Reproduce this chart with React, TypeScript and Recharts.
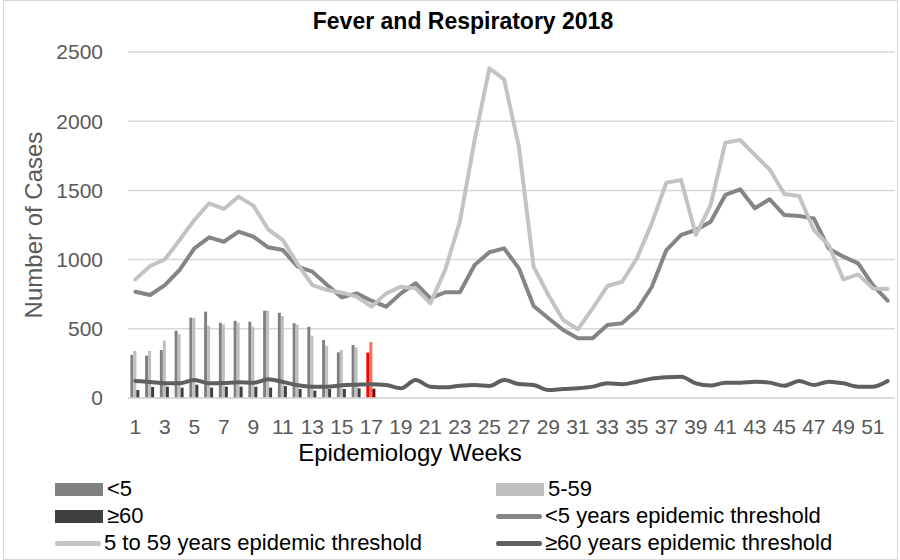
import { Bar, CartesianGrid, Cell, ComposedChart, Label, Line, XAxis, YAxis } from "recharts"

const weeks = [
  "1", "2", "3", "4", "5", "6", "7", "8", "9", "10", "11", "12", "13",
  "14", "15", "16", "17", "18", "19", "20", "21", "22", "23", "24", "25", "26",
  "27", "28", "29", "30", "31", "32", "33", "34", "35", "36", "37", "38", "39",
  "40", "41", "42", "43", "44", "45", "46", "47", "48", "49", "50", "51", "52",
]
const currentWeek = "17"

// weekly cases so far (weeks 1-17)
const under5 = [311, 306, 347, 486, 580, 624, 544, 558, 551, 631, 616, 540, 515, 419, 330, 383, 328]
const age5to59 = [340, 340, 414, 460, 580, 522, 532, 544, 515, 631, 592, 530, 450, 376, 347, 366, 405]
const over60 = [58, 80, 82, 75, 96, 75, 82, 82, 82, 75, 87, 65, 53, 65, 65, 70, 67]

// epidemic thresholds, all 52 weeks
const under5Threshold = [
  768, 744, 816, 925, 1081, 1161, 1129, 1202, 1166, 1089, 1069, 949, 913,
  816, 727, 756, 703, 660, 756, 829, 720, 764, 764, 961, 1053, 1081,
  937, 665, 576, 491, 431, 431, 527, 540, 636, 800, 1069, 1178, 1214,
  1274, 1467, 1508, 1371, 1436, 1322, 1315, 1298, 1081, 1021, 973, 816, 703,
]
const age5to59Threshold = [
  857, 954, 1002, 1141, 1286, 1407, 1366, 1455, 1390, 1219, 1141, 968, 816,
  780, 761, 732, 660, 756, 804, 792, 684, 925, 1274, 1864, 2382, 2302,
  1816, 949, 744, 564, 496, 648, 809, 840, 1009, 1260, 1556, 1575, 1178,
  1394, 1845, 1864, 1756, 1652, 1474, 1459, 1214, 1105, 857, 893, 792, 787,
]
const over60Threshold = [
  123, 116, 106, 106, 130, 106, 108, 113, 110, 135, 116, 92, 82,
  82, 92, 96, 99, 94, 70, 130, 82, 77, 89, 94, 87, 130,
  101, 94, 58, 65, 70, 82, 106, 99, 118, 140, 150, 154, 106,
  90, 111, 111, 118, 111, 89, 123, 94, 118, 106, 82, 82, 123,
]

const yTicks = [0, 500, 1000, 1500, 2000, 2500]

const data = weeks.map((week, i) => ({
  week,
  under5: under5[i],
  age5to59: age5to59[i],
  over60: over60[i],
  under5Threshold: under5Threshold[i],
  age5to59Threshold: age5to59Threshold[i],
  over60Threshold: over60Threshold[i],
}))

const font = '"Liberation Sans", Arial, sans-serif'
const tickStyle = { fill: "#595959", fontSize: 21, fontFamily: font }

const C = {
  under5: "#808080",
  age5to59: "#BFBFBF",
  over60: "#404040",
  under5Now: "#FF0000",
  age5to59Now: "#FF6F5A",
  over60Now: "#7F0000",
  under5Thr: "#858585",
  age5to59Thr: "#C3C3C3",
  over60Thr: "#5F5F5F",
}

function LegendItem({ x, y, label, color, kind }: { x: number; y: number; label: string; color: string; kind: "bar" | "line" }) {
  return (
    <div style={{ position: "absolute", left: x, top: y - 13, height: 26, display: "flex", alignItems: "center", whiteSpace: "nowrap" }}>
      {kind === "bar" ? (
        <span style={{ display: "inline-block", width: 48, height: 13, background: color, marginRight: 4 }} />
      ) : (
        <span style={{ display: "inline-block", width: 46, height: 5, borderRadius: 3, background: color, marginRight: 3 }} />
      )}
      <span style={{ fontSize: 22, color: "#000" }}>{label}</span>
    </div>
  )
}

export default function App() {
  return (
    <div style={{ position: "absolute", left: 0, top: 0, width: 900, height: 560, background: "#fff", fontFamily: font }}>
      <div style={{ position: "absolute", left: 3, top: 0, width: 893, height: 558, border: "1px solid #D9D9D9" }} />
      <div
        style={{
          position: "absolute",
          left: 463,
          top: 10,
          transform: "translateX(-50%)",
          fontSize: 23,
          lineHeight: "23px",
          fontWeight: "bold",
          whiteSpace: "nowrap",
        }}
      >
        Fever and Respiratory 2018
      </div>
      <div style={{ position: "absolute", left: 0, top: 0 }}>
        <ComposedChart
          width={900}
          height={470}
          data={data}
          margin={{ top: 52, right: 5, left: 0, bottom: 0 }}
          barCategoryGap="16%"
          barGap={0}
        >
          <CartesianGrid vertical={false} stroke="#D9D9D9" strokeWidth={1.5} />
          <XAxis
            dataKey="week"
            interval={1}
            tickLine={false}
            tickSize={0}
            tickMargin={21}
            axisLine={{ stroke: "#D9D9D9", strokeWidth: 1.5 }}
            tick={tickStyle}
            height={72}
          >
            <Label
              content={() => (
                <text x={410} y={452} textAnchor="middle" dominantBaseline="central" fontSize={24} fontFamily={font} fill="#000">
                  Epidemiology Weeks
                </text>
              )}
            />
          </XAxis>
          <YAxis
            domain={[0, 2500]}
            ticks={yTicks}
            width={128}
            tickLine={false}
            tickSize={0}
            tickMargin={25}
            axisLine={false}
            tick={tickStyle}
          >
            <Label
              content={() => (
                <text
                  x={33}
                  y={225}
                  transform="rotate(-90 33 225)"
                  textAnchor="middle"
                  dominantBaseline="central"
                  fontSize={24}
                  fontFamily={font}
                  fill="#595959"
                >
                  Number of Cases
                </text>
              )}
            />
          </YAxis>
          <Bar dataKey="under5" fill={C.under5} isAnimationActive={false}>
            {data.map((d) => (
              <Cell key={d.week} fill={d.week === currentWeek ? C.under5Now : C.under5} />
            ))}
          </Bar>
          <Bar dataKey="age5to59" fill={C.age5to59} isAnimationActive={false}>
            {data.map((d) => (
              <Cell key={d.week} fill={d.week === currentWeek ? C.age5to59Now : C.age5to59} />
            ))}
          </Bar>
          <Bar dataKey="over60" fill={C.over60} isAnimationActive={false}>
            {data.map((d) => (
              <Cell key={d.week} fill={d.week === currentWeek ? C.over60Now : C.over60} />
            ))}
          </Bar>
          <Line
            type="linear"
            dataKey="under5Threshold"
            stroke={C.under5Thr}
            strokeWidth={4}
            strokeLinejoin="round"
            strokeLinecap="round"
            dot={false}
            isAnimationActive={false}
          />
          <Line
            type="linear"
            dataKey="age5to59Threshold"
            stroke={C.age5to59Thr}
            strokeWidth={4}
            strokeLinejoin="round"
            strokeLinecap="round"
            dot={false}
            isAnimationActive={false}
          />
          <Line
            type="monotone"
            dataKey="over60Threshold"
            stroke={C.over60Thr}
            strokeWidth={4}
            strokeLinejoin="round"
            strokeLinecap="round"
            dot={false}
            isAnimationActive={false}
          />
        </ComposedChart>
      </div>
      <LegendItem x={55} y={489} label="<5" color={C.under5} kind="bar" />
      <LegendItem x={496} y={489} label="5-59" color={C.age5to59} kind="bar" />
      <LegendItem x={55} y={516} label="≥60" color={C.over60} kind="bar" />
      <LegendItem x={496} y={516} label="<5 years epidemic threshold" color={C.under5Thr} kind="line" />
      <LegendItem x={55} y={543} label="5 to 59 years epidemic threshold" color={C.age5to59Thr} kind="line" />
      <LegendItem x={496} y={543} label="≥60 years epidemic threshold" color={C.over60Thr} kind="line" />
    </div>
  )
}
